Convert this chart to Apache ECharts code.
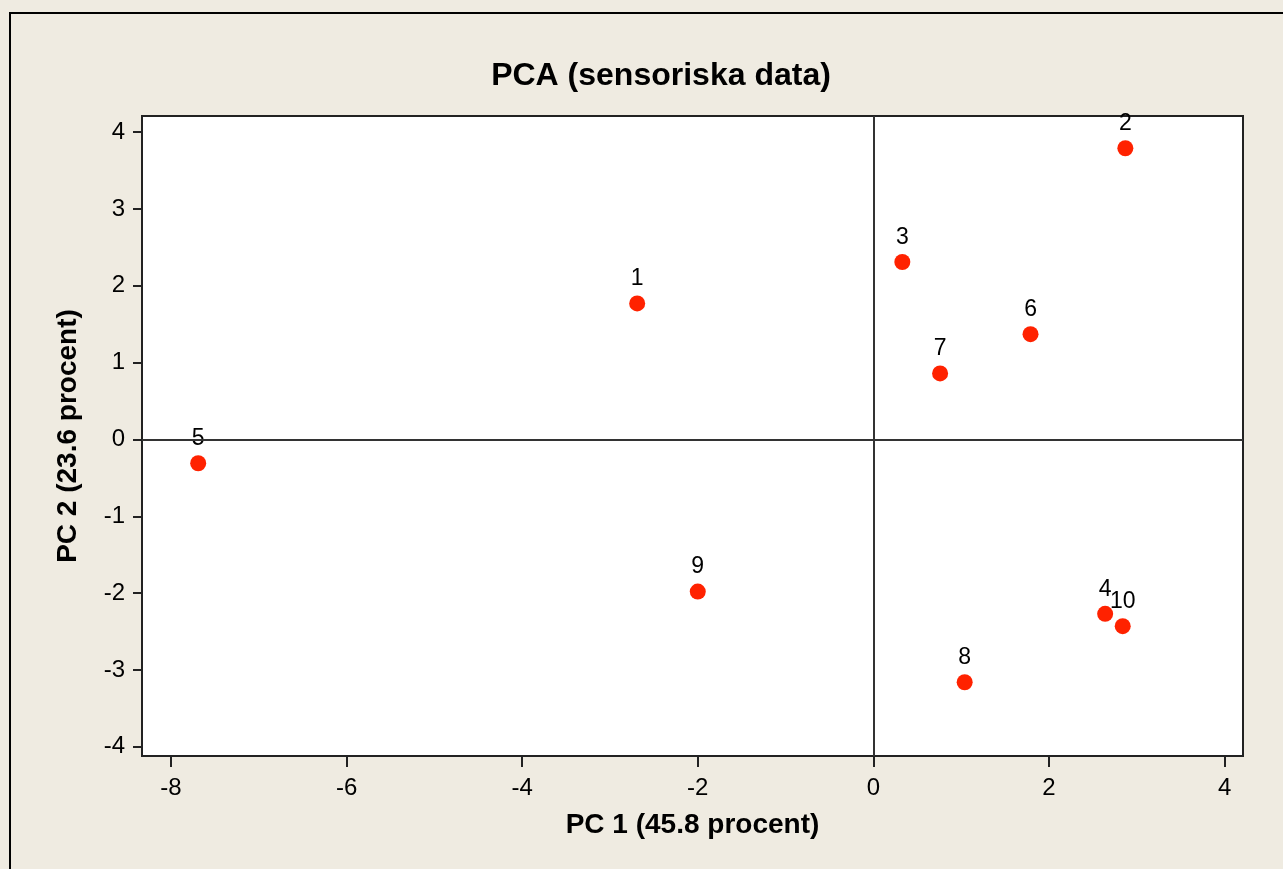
<!DOCTYPE html>
<html>
<head>
<meta charset="utf-8">
<script src="https://cdn.jsdelivr.net/npm/echarts@6/dist/echarts.min.js"></script>
<style>
html, body { margin: 0; padding: 0; background: #efebe1; }
#pca_chart { width: 1283px; height: 869px; }
</style>
</head>
<body>
<div id="pca_chart"></div>
<script>
// prov-nummer och PCA-koordinater
var sampleNames = ['1', '2', '3', '4', '5', '6', '7', '8', '9', '10'];
var pc1Values = [-2.69, 2.87, 0.33, 2.64, -7.69, 1.79, 0.76, 1.04, -2.00, 2.84];
var pc2Values = [1.77, 3.79, 2.31, -2.27, -0.31, 1.37, 0.86, -3.16, -1.98, -2.43];
var xTicks = [-8, -6, -4, -2, 0, 2, 4];
var yTicks = [-4, -3, -2, -1, 0, 1, 2, 3, 4];

function set_pca_chart() {
	var pca_chart = echarts.init(document.getElementById('pca_chart'));
	var points = new Array();
	for (var i = 0; i < sampleNames.length; i++) {
		points[i] = {
			name : sampleNames[i],
			value : [ pc1Values[i], pc2Values[i] ]
		};
	}
	var fontName = 'Liberation Sans, Arial, sans-serif';
	var nameFont = {
		fontFamily : fontName,
		fontWeight : 'bold',
		fontSize : 28,
		color : '#000'
	};
	var option = {
		backgroundColor : '#efebe1',
		animation : false,
		title : {
			text : 'PCA (sensoriska data)',
			left : 656,
			textAlign : 'center',
			top : 55,
			textStyle : {
				fontFamily : fontName,
				fontWeight : 'bold',
				fontSize : 32,
				color : '#000'
			}
		},
		graphic : [ {
			type : 'rect',
			shape : { x : 10, y : 13, width : 1300, height : 900 },
			style : { fill : 'none', stroke : '#000', lineWidth : 2 },
			silent : true
		} ],
		grid : {
			left : 142,
			top : 116,
			right : 40,
			bottom : 113,
			show : true,
			backgroundColor : '#fff',
			borderColor : '#222',
			borderWidth : 2
		},
		xAxis : {
			type : 'value',
			min : -8.33,
			max : 4.21,
			name : 'PC 1 (45.8 procent)',
			nameLocation : 'middle',
			nameGap : 55,
			nameTextStyle : nameFont,
			axisLine : { show : true, onZero : false, lineStyle : { color : '#222', width : 2 } },
			axisTick : { show : true, length : 11, customValues : xTicks, lineStyle : { color : '#222', width : 2 } },
			axisLabel : { customValues : xTicks, margin : 20, fontFamily : fontName, fontSize : 24, color : '#000' },
			splitLine : { show : false }
		},
		yAxis : {
			type : 'value',
			min : -4.12,
			max : 4.21,
			name : 'PC 2 (23.6 procent)',
			nameLocation : 'middle',
			nameGap : 60,
			nameRotate : 90,
			nameTextStyle : nameFont,
			axisLine : { show : true, onZero : false, lineStyle : { color : '#222', width : 2 } },
			axisTick : { show : true, length : 9, customValues : yTicks, lineStyle : { color : '#222', width : 2 } },
			axisLabel : { customValues : yTicks, margin : 17, fontFamily : fontName, fontSize : 24, color : '#000' },
			splitLine : { show : false }
		},
		series : [ {
			type : 'scatter',
			data : points,
			symbol : 'circle',
			symbolSize : 16,
			itemStyle : { color : '#ff2200', opacity : 1 },
			label : {
				show : true,
				position : 'top',
				distance : 5,
				formatter : '{b}',
				fontFamily : fontName,
				fontSize : 23,
				color : '#000'
			},
			markLine : {
				silent : true,
				symbol : 'none',
				label : { show : false },
				lineStyle : { color : '#333', width : 2, type : 'solid', opacity : 1 },
				data : [ { xAxis : 0 }, { yAxis : 0 } ]
			}
		} ]
	};
	pca_chart.setOption(option);
}

set_pca_chart();
</script>
</body>
</html>
